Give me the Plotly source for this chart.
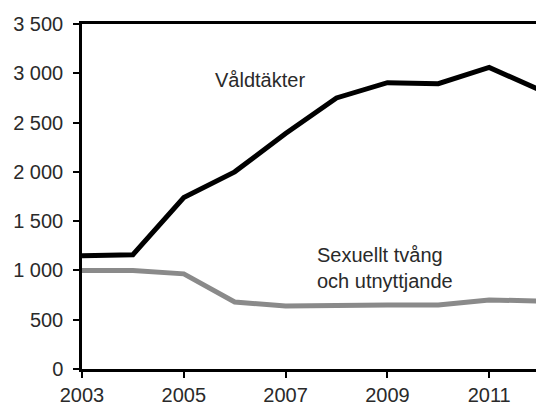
import plotly.graph_objects as go

years = [2003, 2004, 2005, 2006, 2007, 2008, 2009, 2010, 2011, 2012]
valdtakter = [1150, 1160, 1740, 2000, 2390, 2750, 2905, 2895, 3060, 2830]
sexuellt_tvang = [1000, 1000, 965, 680, 638, 650, 650, 650, 700, 690]

y_ticks = [0, 500, 1000, 1500, 2000, 2500, 3000, 3500]
y_tick_labels = ["0", "500", "1 000", "1 500", "2 000", "2 500", "3 000", "3 500"]
x_ticks = [2003, 2005, 2007, 2009, 2011]

fig = go.Figure()
fig.add_trace(go.Scatter(x=years, y=sexuellt_tvang, mode="lines",
                         line=dict(color="#8a8a8a", width=5), name="Sexuellt tvång och utnyttjande"))
fig.add_trace(go.Scatter(x=years, y=valdtakter, mode="lines",
                         line=dict(color="#000000", width=5), name="Våldtäkter"))

font = dict(family="Liberation Sans, Arial, sans-serif", size=20, color="#2a2a2a")

fig.add_annotation(x=2006.49, y=2928, text="Våldtäkter", showarrow=False,
                   xanchor="center", yanchor="middle", font=font)
fig.add_annotation(x=2007.58, y=1028, text="Sexuellt tvång<br>och utnyttjande", showarrow=False,
                   xanchor="left", yanchor="middle", align="left", font=font)

fig.update_layout(
    width=536, height=403,
    margin=dict(l=82, r=0, t=24, b=34),
    plot_bgcolor="white", paper_bgcolor="white",
    showlegend=False,
    font=font,
)
fig.update_xaxes(range=[2003, 2011.92], tickvals=x_ticks, ticks="outside", ticklen=6,
                 tickwidth=2, tickcolor="black", showline=True, linecolor="black", linewidth=2.5,
                 mirror=True, showgrid=False, zeroline=False, tickfont=font, automargin=False,
                 ticklabelstandoff=0)
fig.update_yaxes(range=[0, 3500], tickvals=y_ticks, ticktext=y_tick_labels, ticks="outside",
                 ticklen=6, tickwidth=2, tickcolor="black", showline=True, linecolor="black",
                 linewidth=2.5, showgrid=False, zeroline=False, tickfont=font, ticklabelstandoff=6,
                 automargin=False)

fig.write_html("out.html", config={"displayModeBar": False},
               post_script="document.body.style.margin='0';document.body.style.overflow='hidden';")
